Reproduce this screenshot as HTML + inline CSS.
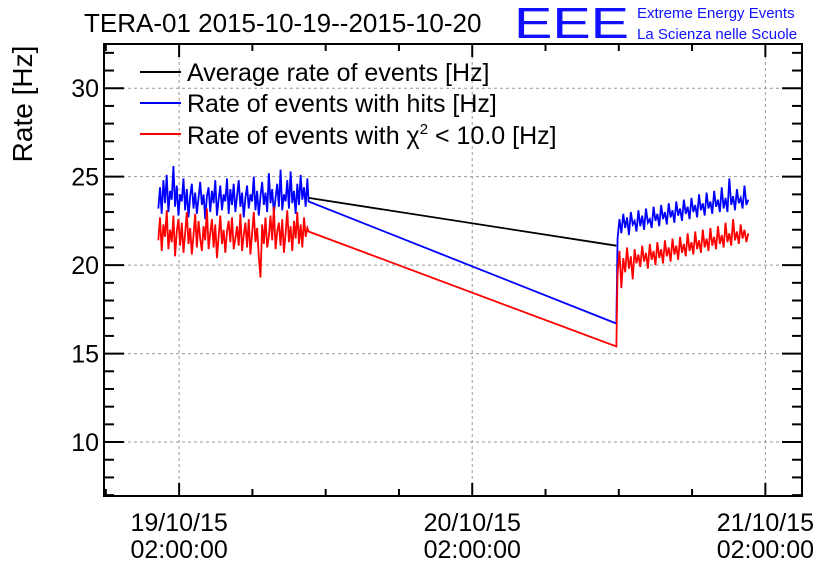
<!DOCTYPE html>
<html><head><meta charset="utf-8"><style>
body{margin:0;background:#fff;}
svg{display:block;font-family:"Liberation Sans",sans-serif;}
</style></head><body>
<svg id="chart" width="836" height="572" viewBox="0 0 836 572">
<text x="84" y="32" font-size="26">TERA-01 2015-10-19--2015-10-20</text>
<text x="514" y="38" font-size="44" fill="#1010ff" textLength="115" lengthAdjust="spacingAndGlyphs">EEE</text>
<text x="637" y="18" font-size="15" fill="#1010ff">Extreme Energy Events</text>
<text x="637" y="39" font-size="15" fill="#1010ff">La Scienza nelle Scuole</text>
<text transform="translate(32,104) rotate(-90)" text-anchor="middle" font-size="28">Rate [Hz]</text>
<g id="grid"></g>
<g id="series"></g>
<g id="axes"></g>
<g font-size="25">
<g><line x1="140" y1="72" x2="181" y2="72" stroke="#000" stroke-width="2"/><text x="187" y="81">Average rate of events [Hz]</text></g>
<g><line x1="140" y1="103" x2="181" y2="103" stroke="#00f" stroke-width="2"/><text x="187" y="112">Rate of events with hits [Hz]</text></g>
<g><line x1="140" y1="134" x2="181" y2="134" stroke="#f00" stroke-width="2"/><text x="187" y="144">Rate of events with χ<tspan font-size="15" dy="-10">2</tspan><tspan dy="10"> &lt; 10.0 [Hz]</tspan></text></g>
</g>
</svg>
<script>
const yTicks=[10,15,20,25,30];
const xTickHours=[0,24,48];
const xTickLabels=[["19/10/15","02:00:00"],["20/10/15","02:00:00"],["21/10/15","02:00:00"]];
const seg1Range=[-1.7,10.5];
const seg2Range=[35.9,46.6];
const blueSeg1=[23.2,24.4,22.9,24.8,23.5,25.1,23.0,24.2,23.7,25.6,23.3,24.5,22.8,24.0,23.6,24.9,23.1,24.3,22.7,23.9,24.6,23.2,24.1,22.9,23.8,24.7,23.4,24.0,22.6,23.9,24.4,23.0,24.2,23.5,24.8,22.8,23.7,24.5,23.1,24.0,23.6,24.9,22.9,24.3,23.4,24.6,23.0,23.9,24.8,23.3,24.1,22.7,23.8,24.5,23.2,24.0,23.6,25.0,23.1,24.2,22.8,23.9,24.7,23.4,24.1,23.0,25.2,23.5,24.3,22.9,23.8,24.6,23.3,25.4,23.1,24.0,23.6,24.8,23.2,25.3,23.5,24.2,22.9,24.6,23.4,25.1,23.7,24.4,23.3,24.9];
const redSeg1=[21.4,22.7,20.8,22.3,21.6,23.1,20.9,22.0,21.3,22.8,20.5,21.9,22.6,21.1,22.4,20.7,21.8,23.0,21.2,22.1,20.6,21.7,22.9,21.0,22.5,21.5,20.8,22.2,21.4,23.2,20.9,21.8,22.6,21.0,22.3,20.4,21.6,22.8,21.2,22.0,20.7,21.9,22.5,21.3,22.7,20.9,21.5,22.2,21.1,22.9,20.8,21.7,22.4,21.0,22.6,20.6,21.8,23.0,21.3,22.1,20.5,19.3,22.3,21.2,22.7,21.0,21.6,22.8,21.4,23.3,20.9,21.9,22.4,21.1,22.6,20.7,21.8,23.1,21.3,22.2,20.8,22.5,21.5,23.0,21.2,22.3,21.0,22.7,21.6,22.1];
const blueSeg2=[21.5,22.6,21.8,22.9,22.1,22.7,21.7,23.0,22.3,22.5,21.9,23.1,22.2,22.8,22.0,23.2,22.4,22.6,22.1,23.3,22.5,22.9,22.2,23.4,22.6,23.0,22.3,23.5,22.7,23.1,22.4,23.6,22.8,23.2,22.5,23.7,22.9,23.3,22.6,23.8,23.0,23.4,22.7,24.0,23.1,23.5,22.8,24.1,23.2,23.6,22.9,24.2,23.3,23.7,23.0,24.4,23.2,23.8,23.0,24.9,23.4,23.9,23.1,24.3,23.5,23.8,23.2,24.5,23.4,23.7];
const redSeg2=[19.5,20.8,18.7,20.4,19.6,21.0,19.8,20.5,19.2,20.9,20.1,20.6,19.9,21.1,20.2,20.7,19.8,21.2,20.3,20.8,20.0,21.3,20.4,20.9,20.1,21.4,20.5,21.0,20.2,21.5,20.6,21.1,20.3,21.6,20.7,21.2,20.5,21.8,20.8,21.3,20.6,21.9,20.9,21.4,20.7,22.0,21.0,21.5,20.8,22.1,21.1,21.6,20.9,22.2,21.2,21.7,21.0,22.4,21.3,21.8,21.1,22.6,21.4,21.9,21.2,22.3,21.5,22.0,21.3,21.8];
const gapTimes=[10.6,35.8];
const blueGap=[23.6,16.7];
const redGap=[21.9,15.4];
const blackTimes=[10.6,35.8];
const blackValues=[23.8,21.1];

const L=104,R=802,T=44,B=496;
const yMin=6.95,yMax=32.5,xMin=-6.15,xMax=51.0;
const X=h=>L+(h-xMin)/(xMax-xMin)*(R-L);
const Y=v=>B-(v-yMin)/(yMax-yMin)*(B-T);
const NS="http://www.w3.org/2000/svg";
function mk(tag,attrs,parent){const e=document.createElementNS(NS,tag);for(const k in attrs)e.setAttribute(k,attrs[k]);parent.appendChild(e);return e;}
const grid=document.getElementById('grid'),axes=document.getElementById('axes'),ser=document.getElementById('series');
yTicks.forEach(v=>{const g=mk('line',{x1:L,x2:R,y1:Y(v),y2:Y(v),stroke:'#999','stroke-dasharray':'3,3'},grid);

});
xTickHours.forEach(h=>{const g=mk('line',{x1:X(h),x2:X(h),y1:T,y2:B,stroke:'#999','stroke-dasharray':'3,3'},grid);

});
function times(r,n){const a=[];for(let i=0;i<n;i++)a.push(r[0]+(r[1]-r[0])*i/(n-1));return a;}
function poly(ts,vs,color,name){const p=mk('polyline',{points:ts.map((t,i)=>X(t)+','+Y(vs[i])).join(' '),fill:'none',stroke:color,'stroke-width':1.8,'stroke-linejoin':'miter'},ser);

}
poly(blackTimes,blackValues,'#000','average-rate-line');
const t1b=times(seg1Range,blueSeg1.length),t2b=times(seg2Range,blueSeg2.length);
const t1r=times(seg1Range,redSeg1.length),t2r=times(seg2Range,redSeg2.length);
poly(t1b.concat(gapTimes,t2b),blueSeg1.concat(blueGap,blueSeg2),'#00f','hits-rate-line');
poly(t1r.concat(gapTimes,t2r),redSeg1.concat(redGap,redSeg2),'#f00','chi2-rate-line');
const fr=mk('rect',{x:L,y:T,width:R-L,height:B-T,fill:'none',stroke:'#000','stroke-width':2},axes);


for(let v=7;v<=32;v++){const maj=v%5===0,len=maj?20:10;
mk('line',{x1:L,x2:L+len,y1:Y(v),y2:Y(v),stroke:'#000','stroke-width':2},axes);
mk('line',{x1:R,x2:R-len,y1:Y(v),y2:Y(v),stroke:'#000','stroke-width':2},axes);
if(maj){const t=mk('text',{x:L-5,y:Y(v)+9,'text-anchor':'end','font-size':25},axes);t.textContent=v;

}}
for(let h=-6;h<=48;h+=6){const maj=h%24===0,len=maj?13:7;
mk('line',{x1:X(h),x2:X(h),y1:B,y2:B-len,stroke:'#000','stroke-width':2},axes);
mk('line',{x1:X(h),x2:X(h),y1:T,y2:T+len,stroke:'#000','stroke-width':2},axes);}
xTickHours.forEach((h,i)=>{const t=mk('text',{x:X(h),y:531,'text-anchor':'middle','font-size':25},axes);t.textContent=xTickLabels[i][0];


const t2=mk('text',{x:X(h),y:558,'text-anchor':'middle','font-size':25},axes);t2.textContent=xTickLabels[i][1];

});
</script>
</body></html>
